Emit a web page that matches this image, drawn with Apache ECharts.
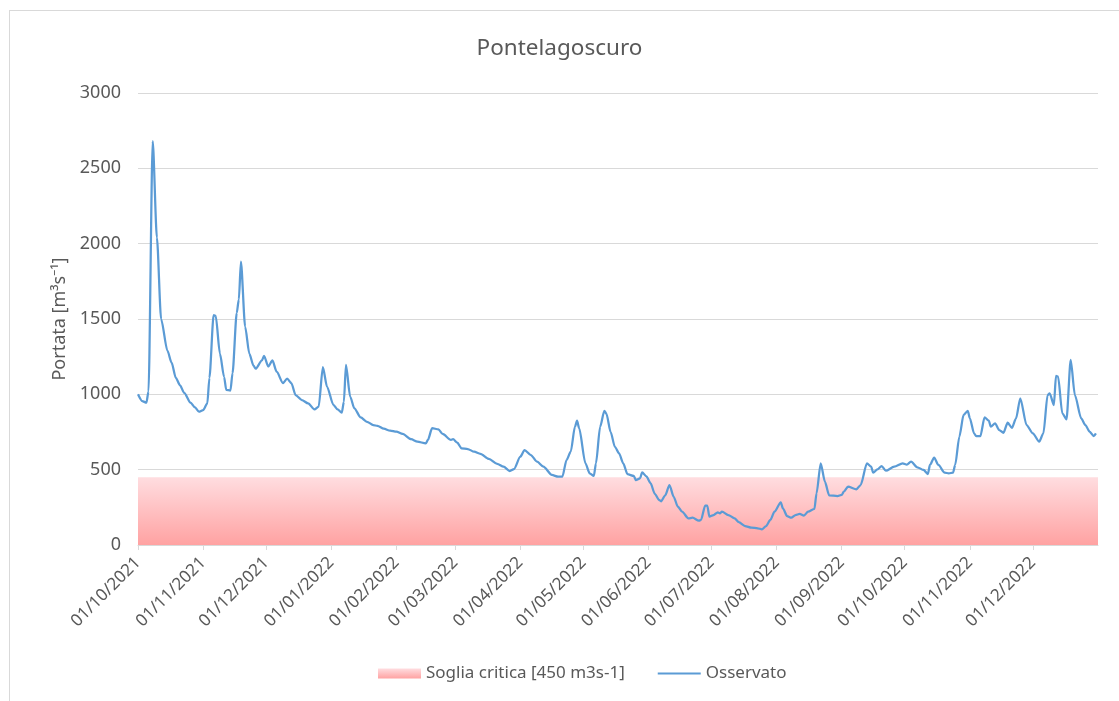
<!DOCTYPE html>
<html>
<head>
<meta charset="utf-8">
<script src="https://cdn.jsdelivr.net/npm/echarts@6/dist/echarts.min.js"></script>
<style>
html,body{margin:0;padding:0;background:#fff;overflow:hidden;}
#frame{position:absolute;left:9px;top:10px;width:1120px;height:700px;border:1px solid #D9D9D9;box-sizing:border-box;}
#chart{position:absolute;left:0;top:0;width:1119px;height:701px;}
</style>
</head>
<body>
<div id="frame"></div>
<div id="chart"></div>
<script>
const TITLE = 'Pontelagoscuro';
const Y_NAME = 'Portata [m³s⁻¹]';
const SERIES_THRESHOLD = 'Soglia critica [450 m3s-1]';
const SERIES_OBS = 'Osservato';
const THRESHOLD = 450;
const X_START = '2021-10-01';
const X_END = '2023-01-01';
const Y_TICKS = [0, 500, 1000, 1500, 2000, 2500, 3000];

const dates = [
'2021-10-01','2021-10-03','2021-10-05','2021-10-06','2021-10-08','2021-10-10','2021-10-12','2021-10-15','2021-10-17','2021-10-19',
'2021-10-21','2021-10-23','2021-10-26','2021-10-28','2021-10-30','2021-11-01','2021-11-03','2021-11-04','2021-11-06','2021-11-07',
'2021-11-09','2021-11-11','2021-11-12','2021-11-14','2021-11-15','2021-11-17','2021-11-18','2021-11-19','2021-11-21','2021-11-23',
'2021-11-25','2021-11-26','2021-11-29','2021-11-30','2021-12-02','2021-12-04','2021-12-06','2021-12-09','2021-12-11','2021-12-13',
'2021-12-15','2021-12-18','2021-12-21','2021-12-24','2021-12-26','2021-12-28','2021-12-30','2022-01-02','2022-01-04','2022-01-06',
'2022-01-07','2022-01-08','2022-01-10','2022-01-12','2022-01-15','2022-01-18','2022-01-21','2022-01-23','2022-01-26','2022-01-29',
'2022-02-01','2022-02-04','2022-02-08','2022-02-11','2022-02-15','2022-02-16','2022-02-18','2022-02-21','2022-02-23','2022-02-27',
'2022-02-28','2022-03-02','2022-03-04','2022-03-07','2022-03-10','2022-03-13','2022-03-17','2022-03-21','2022-03-24','2022-03-27',
'2022-03-29','2022-04-01','2022-04-03','2022-04-06','2022-04-09','2022-04-12','2022-04-16','2022-04-19','2022-04-21','2022-04-23',
'2022-04-25','2022-04-27','2022-04-28','2022-04-29','2022-05-02','2022-05-04','2022-05-06','2022-05-07','2022-05-09','2022-05-11',
'2022-05-12','2022-05-14','2022-05-16','2022-05-18','2022-05-20','2022-05-22','2022-05-25','2022-05-26','2022-05-28','2022-05-29',
'2022-05-31','2022-06-02','2022-06-04','2022-06-06','2022-06-07','2022-06-09','2022-06-11','2022-06-13','2022-06-15','2022-06-17',
'2022-06-20','2022-06-22','2022-06-25','2022-06-26','2022-06-28','2022-06-29','2022-06-30','2022-07-02','2022-07-04','2022-07-05',
'2022-07-06','2022-07-09','2022-07-12','2022-07-14','2022-07-17','2022-07-20','2022-07-23','2022-07-25','2022-07-27','2022-07-29',
'2022-07-31','2022-08-03','2022-08-04','2022-08-06','2022-08-08','2022-08-10','2022-08-12','2022-08-14','2022-08-16','2022-08-19',
'2022-08-20','2022-08-22','2022-08-24','2022-08-26','2022-08-30','2022-09-01','2022-09-02','2022-09-04','2022-09-08','2022-09-10',
'2022-09-13','2022-09-15','2022-09-16','2022-09-18','2022-09-20','2022-09-22','2022-09-26','2022-09-30','2022-10-02','2022-10-04',
'2022-10-07','2022-10-10','2022-10-12','2022-10-13','2022-10-15','2022-10-17','2022-10-20','2022-10-22','2022-10-24','2022-10-25',
'2022-10-27','2022-10-29','2022-10-31','2022-11-01','2022-11-03','2022-11-04','2022-11-06','2022-11-08','2022-11-10','2022-11-11',
'2022-11-13','2022-11-15','2022-11-17','2022-11-19','2022-11-21','2022-11-23','2022-11-25','2022-11-28','2022-12-01','2022-12-04',
'2022-12-06','2022-12-08','2022-12-09','2022-12-11','2022-12-12','2022-12-13','2022-12-15','2022-12-17','2022-12-19','2022-12-21',
'2022-12-24','2022-12-26','2022-12-28','2022-12-30','2022-12-31'
];

const observed = [
1000,955,945,1020,2680,2040,1500,1290,1210,1110,
1060,1010,945,915,885,895,940,1110,1525,1520,
1270,1115,1030,1025,1140,1540,1630,1880,1450,1270,
1190,1170,1225,1255,1185,1225,1150,1075,1105,1075,
995,962,940,900,918,1180,1050,930,900,878,
950,1195,985,907,847,818,796,790,772,759,
752,737,702,686,675,697,775,768,737,697,
702,679,642,637,619,605,571,538,520,491,
504,586,630,597,553,520,465,453,453,564,
619,785,825,775,542,476,458,542,785,891,
870,750,652,608,542,470,458,431,443,482,
455,410,340,300,290,330,398,320,254,221,
177,181,161,166,261,262,188,199,217,210,
221,199,177,151,126,115,111,104,126,166,
221,283,243,192,181,199,206,195,221,239,
343,542,420,330,325,332,354,387,370,398,
542,520,480,502,524,493,520,542,533,553,
516,498,471,531,580,531,480,476,480,531,
719,863,891,841,741,723,723,847,825,785,
808,763,745,812,778,841,974,796,741,686,
741,995,1007,929,1122,1117,874,834,1228,995,
841,796,752,723,741
];

const thresholdDates = [X_START, X_END];
const thresholdValues = [THRESHOLD, THRESHOLD];

const FONT = 'Noto Sans';
const TXT = '#595959';
const GRIDC = '#D9D9D9';
const BLUE = '#5B9BD5';

const pinkGrad = () => new echarts.graphic.LinearGradient(0, 0, 0, 1, [
  {offset: 0, color: '#FFDDE0'},
  {offset: 1, color: '#FFA2A2'}
]);

const chart = echarts.init(document.getElementById('chart'), null, {renderer: 'canvas'});
chart.setOption({
  animation: false,
  backgroundColor: 'transparent',
  textStyle: {fontFamily: FONT},
  title: {
    text: TITLE, left: 'center', top: 32,
    textStyle: {fontFamily: FONT, fontSize: 22.5, fontWeight: 'normal', color: TXT}
  },
  legend: {
    bottom: 14, left: 373,
    itemWidth: 43, itemHeight: 10, itemGap: 32,
    textStyle: {fontFamily: FONT, fontSize: 17, color: TXT},
    data: [
      {name: SERIES_THRESHOLD, icon: 'rect', itemStyle: {color: pinkGrad()}},
      {name: SERIES_OBS, itemStyle: {color: 'rgba(0,0,0,0)', borderColor: 'rgba(0,0,0,0)', borderWidth: 0}}
    ]
  },
  grid: {left: 138, right: 21, top: 93, bottom: 156, containLabel: false},
  xAxis: {
    type: 'time',
    min: X_START, max: X_END,
    minInterval: 28 * 86400000,
    maxInterval: 31 * 86400000,
    axisLine: {show: true, lineStyle: {color: GRIDC, width: 1}},
    axisTick: {show: true, length: 5, lineStyle: {color: GRIDC}},
    splitLine: {show: false},
    axisLabel: {
      rotate: 45, margin: 15, fontFamily: FONT, fontSize: 17, color: TXT,
      showMaxLabel: false, showMinLabel: true, hideOverlap: false,
      formatter: v => echarts.time.format(v, '{dd}/{MM}/{yyyy}', false)
    }
  },
  yAxis: {
    type: 'value', min: Y_TICKS[0], max: Y_TICKS[Y_TICKS.length - 1], interval: 500,
    name: Y_NAME, nameLocation: 'middle', nameGap: 61, nameRotate: 90,
    nameTextStyle: {fontFamily: FONT, fontSize: 18, color: TXT},
    axisLine: {show: false}, axisTick: {show: false},
    splitLine: {lineStyle: {color: GRIDC, width: 1}},
    axisLabel: {margin: 17, fontFamily: FONT, fontSize: 18, color: TXT, formatter: v => String(v)}
  },
  series: [
    {
      name: SERIES_THRESHOLD, type: 'line', symbol: 'none', silent: true,
      data: thresholdDates.map((d, i) => [d, thresholdValues[i]]),
      lineStyle: {width: 0, color: '#FFC0C4'},
      itemStyle: {color: '#FFC0C4'},
      areaStyle: {color: pinkGrad(), opacity: 1},
      z: 1
    },
    {
      name: SERIES_OBS, type: 'line', symbol: 'none',
      smooth: 0.25, smoothMonotone: 'x',
      data: dates.map((d, i) => [d, observed[i]]),
      lineStyle: {width: 2.25, color: BLUE},
      itemStyle: {color: BLUE},
      z: 3
    }
  ]
});
</script>
</body>
</html>
